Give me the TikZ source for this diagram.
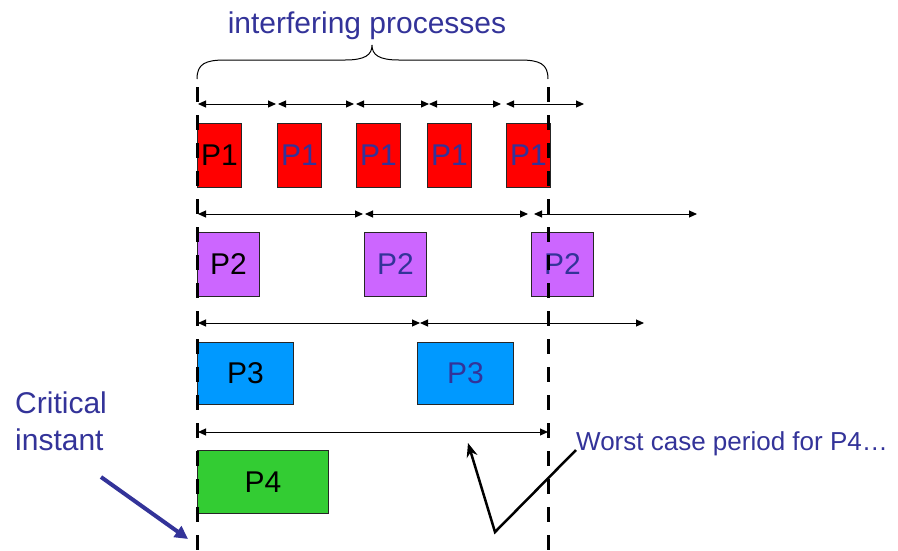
\documentclass[tikz,border=0pt]{standalone}
\usepackage{fontspec}
\setmainfont{Liberation Sans}
\usetikzlibrary{arrows.meta,positioning}
\definecolor{slideblue}{HTML}{333399}
\definecolor{pred}{HTML}{FF0000}
\definecolor{ppurple}{HTML}{CC66FF}
\definecolor{pblue}{HTML}{0099FF}
\definecolor{pgreen}{HTML}{33CC33}

\begin{document}
\begin{tikzpicture}[x=1pt,y=-1pt,
pbox/.style={draw=black!85,line width=0.8pt,anchor=north west,inner sep=0pt,font=\fontsize{30}{36}\selectfont},
period/.style={line width=1pt,{Triangle[length=8pt,width=7pt]}-{Triangle[length=8pt,width=7pt]}},
bound/.style={line width=3pt,dash pattern=on 15pt off 13pt},
note/.style={text=slideblue,inner sep=0pt,anchor=base west}]
\useasboundingbox (0,0) rectangle (898,550);

% process boxes
\foreach \x/\c [count=\i] in {197/black,277/slideblue,356/slideblue,427/slideblue,506/slideblue}
  \node[pbox,fill=pred,minimum width=44pt,minimum height=64pt,text=\c] (pone-\i) at (\x,123) {P1};
\foreach \x/\c [count=\i] in {197/black,364/slideblue,531/slideblue}
  \node[pbox,fill=ppurple,minimum width=62pt,minimum height=64pt,text=\c] (ptwo-\i) at (\x,232) {P2};
\foreach \x/\c [count=\i] in {197/black,417/slideblue}
  \node[pbox,fill=pblue,minimum width=96pt,minimum height=62pt,text=\c] (pthree-\i) at (\x,342) {P3};
\node[pbox,fill=pgreen,minimum width=131pt,minimum height=63pt] (pfour) at (197,450) {P4};

% periods
\foreach \a/\b in {198/276,278/354,356/429,429/501,506/584}
  \draw[period] (\a,104) -- (\b,104);
\foreach \a/\b in {198/363,365/528,534/697}
  \draw[period] (\a,214) -- (\b,214);
\foreach \a/\b in {198/420,420/644}
  \draw[period] (\a,323) -- (\b,323);
\draw[period] (198,432) -- (548,432);

% window
\coordinate (tstart) at (197,87);
\coordinate (tend) at (548,87);
\draw[bound] (tstart) -- ++(0,463);
\draw[bound] (tend) -- ++(0,463);

\coordinate (tip) at (372,45);
\draw[line width=1pt] (197,79) .. controls (197,64) and (205,60) .. (225,60) -- (345,60)
  .. controls (365,60) and (372,55) .. (tip)
  .. controls (372,55) and (379,60) .. (399,60) -- (520,60)
  .. controls (540,60) and (548,64) .. (548,79);
\node[text=slideblue,inner sep=0pt,anchor=base,font=\fontsize{30}{36}\selectfont] (interf) at (367,33) {interfering processes};

% labels
\node[note,font=\fontsize{26}{31}\selectfont] (worst) at (576,450) {Worst case period for P4…};
\coordinate (vbottom) at (495,532);
\coordinate (vtip) at (468,443);
\draw[line width=2.5pt,-{Stealth[length=14pt,width=11pt]}] (worst.base west) -- (vbottom) -- (vtip);

\node[note,font=\fontsize{30}{36}\selectfont] (crit) at (15,413) {Critical};
\node[note,font=\fontsize{30}{36}\selectfont] (inst) at (15,450) {instant};
\coordinate (cstart) at (101,477);
\coordinate (cend) at (188,539);
\draw[slideblue,line width=4pt,-{Triangle[length=13pt,width=13pt]}] (cstart) -- (cend);
\end{tikzpicture}
\end{document}
